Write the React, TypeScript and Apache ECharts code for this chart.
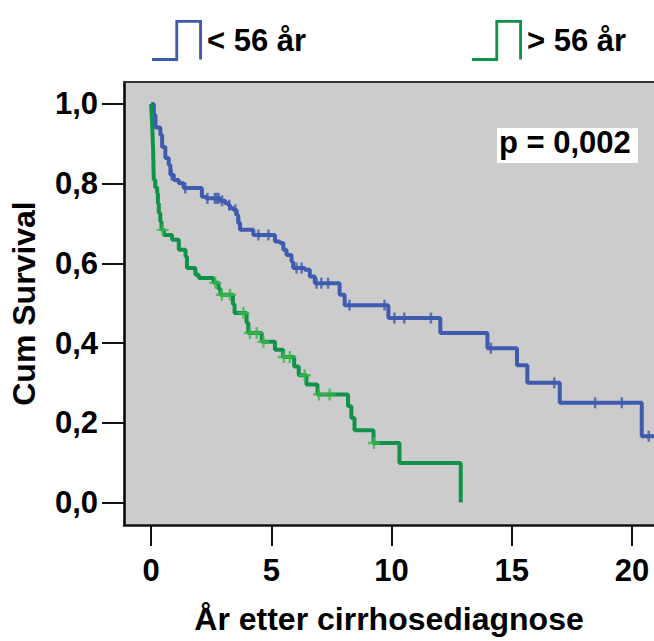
import React, { useEffect, useRef } from "react";
import * as echarts from "echarts";

// Kaplan-Meier step points [years, cumulative survival]
const youngCurve: number[][] = [
  [0, 1.0], [0.11, 0.972], [0.18, 0.941], [0.385, 0.922], [0.456, 0.892], [0.59, 0.864],
  [0.73, 0.847], [0.8, 0.822], [0.94, 0.809], [1.15, 0.801], [1.35, 0.789], [2.11, 0.767],
  [2.28, 0.763], [2.86, 0.757], [3.08, 0.751], [3.22, 0.746], [3.28, 0.738], [3.43, 0.734],
  [3.56, 0.721], [3.62, 0.701], [3.7, 0.684], [4.25, 0.671], [5.15, 0.655], [5.36, 0.651],
  [5.5, 0.634], [5.63, 0.621], [5.84, 0.604], [5.91, 0.588], [6.39, 0.584], [6.6, 0.567],
  [6.81, 0.55], [7.84, 0.521], [8.05, 0.495], [9.87, 0.4625], [12.03, 0.425], [13.99, 0.387],
  [15.22, 0.344], [15.65, 0.3], [17.0, 0.25], [20.41, 0.166], [21.2, 0.166],
];
const youngCensored: number[][] = [
  [0.85, 0.822], [1.42, 0.789], [2.34, 0.763], [2.65, 0.763], [2.73, 0.763], [2.8, 0.763],
  [2.95, 0.757], [3.25, 0.746], [3.5, 0.734], [3.66, 0.701], [4.46, 0.671], [4.88, 0.671],
  [6.05, 0.588], [6.26, 0.588], [6.88, 0.55], [7.08, 0.55], [7.36, 0.55], [8.25, 0.495],
  [9.71, 0.495], [10.12, 0.4625], [10.53, 0.4625], [11.64, 0.4625], [14.13, 0.387],
  [16.77, 0.3], [18.47, 0.25], [19.58, 0.25], [20.7, 0.166],
];
const oldCurve: number[][] = [
  [0, 1.0], [0.02, 0.975], [0.04, 0.95], [0.06, 0.92], [0.08, 0.89], [0.09, 0.86],
  [0.1, 0.83], [0.11, 0.81], [0.17, 0.79], [0.25, 0.776], [0.28, 0.75], [0.32, 0.726],
  [0.38, 0.705], [0.43, 0.684], [0.53, 0.671], [0.87, 0.659], [1.15, 0.634], [1.43, 0.617],
  [1.49, 0.588], [1.84, 0.571], [1.98, 0.563], [2.6, 0.551], [2.8, 0.536], [2.88, 0.521],
  [3.4, 0.497], [3.47, 0.475], [3.97, 0.451], [4.04, 0.425], [4.6, 0.403], [5.15, 0.383],
  [5.49, 0.365], [5.95, 0.341], [6.14, 0.319], [6.46, 0.296], [6.92, 0.271], [8.19, 0.241],
  [8.33, 0.212], [8.46, 0.181], [9.25, 0.149], [10.33, 0.099], [12.88, 0.0],
];
const oldCensored: number[][] = [
  [0.48, 0.684], [2.67, 0.551], [2.94, 0.521], [3.28, 0.521], [3.84, 0.475], [4.11, 0.425],
  [4.39, 0.425], [4.67, 0.403], [5.52, 0.365], [5.77, 0.365], [6.39, 0.319], [6.98, 0.271],
  [7.43, 0.271], [9.27, 0.149],
];
const xTicks = [0, 5, 10, 15, 20];
const yTicks = [0, 0.2, 0.4, 0.6, 0.8, 1.0];
const groupNames = ["< 56 år", "> 56 år"];
const xTitle = "År etter cirrhosediagnose";
const yTitle = "Cum Survival";
const pText = "p = 0,002";

const BLUE = "#3f5bb0";
const GREEN = "#11924a";
const GREEN_LIGHT = "#3cb64b";
const FONT = "'Liberation Sans', Arial, sans-serif";

const stepIcon =
  "path://M0,41.5H27.5V1.5H49.5V40H52.5V-1.5H24.5V38.5H0Z";
const plusIcon = "path://M4,0H6V4H10V6H6V10H4V6H0V4H4Z";

export default function App() {
  const ref = useRef<HTMLDivElement>(null);
  useEffect(() => {
    if (!ref.current) return;
    const chart = echarts.init(ref.current, null, { renderer: "svg" });
    const txt = { color: "#000", fontWeight: "bold" as const, fontFamily: FONT, fontSize: 31 };
    const legendBase = {
      top: 15,
      icon: stepIcon,
      itemWidth: 50,
      itemHeight: 42,
      selectedMode: false,
      itemStyle: { borderWidth: 0 },
      textStyle: { ...txt },
    };
    chart.setOption({
      animation: false,
      backgroundColor: "#fff",
      grid: {
        left: 122,
        top: 82,
        right: 0,
        bottom: 116,
        show: true,
        backgroundColor: "#cccccc",
        borderWidth: 0,
      },
      legend: [
        { ...legendBase, left: 147, data: [groupNames[0]] },
        { ...legendBase, left: 467, data: [groupNames[1]] },
      ],
      xAxis: [
        {
          type: "value",
          min: -1.13,
          max: 20.92,
          name: xTitle,
          nameLocation: "middle",
          nameGap: 78,
          nameTextStyle: { ...txt, fontSize: 32 },
          axisLine: { show: true, onZero: false, lineStyle: { color: "#111", width: 2.5 } },
          axisTick: {
            show: true,
            length: 21,
            customValues: xTicks,
            lineStyle: { color: "#111", width: 2 },
          },
          axisLabel: {
            customValues: xTicks,
            margin: 30,
            ...txt,
          },
          splitLine: { show: false },
        },
        {
          type: "value",
          position: "top",
          min: -1.13,
          max: 20.92,
          axisLine: { show: true, onZero: false, lineStyle: { color: "#333", width: 2 } },
          axisTick: { show: false },
          axisLabel: { show: false },
          splitLine: { show: false },
        },
      ],
      yAxis: {
        type: "value",
        min: -0.0567,
        max: 1.055,
        name: yTitle,
        nameLocation: "middle",
        nameGap: 84,
        nameTextStyle: { ...txt, fontSize: 32 },
        axisLine: { show: true, onZero: false, lineStyle: { color: "#000", width: 2.5 } },
        axisTick: {
          show: true,
          length: 22,
          customValues: yTicks,
          lineStyle: { color: "#111", width: 2 },
        },
        axisLabel: {
          customValues: yTicks,
          margin: 26,
          formatter: (v: number) => v.toFixed(1).replace(".", ","),
          ...txt,
        },
        splitLine: { show: false },
      },
      series: [
        {
          name: groupNames[0],
          type: "line",
          step: "end",
          data: youngCurve,
          showSymbol: false,
          symbol: "none",
          itemStyle: { color: BLUE },
          lineStyle: { color: BLUE, width: 4 },
          clip: true,
          z: 2,
        },
        {
          name: groupNames[1],
          type: "line",
          step: "end",
          data: oldCurve,
          showSymbol: false,
          symbol: "none",
          itemStyle: { color: GREEN },
          lineStyle: { color: GREEN, width: 4 },
          clip: true,
          z: 3,
        },
        {
          name: "young-censored",
          type: "scatter",
          data: youngCensored,
          symbol: "rect",
          symbolSize: [2.5, 11],
          itemStyle: { color: BLUE },
          clip: true,
          z: 4,
        },
        {
          name: "old-censored",
          type: "scatter",
          data: oldCensored,
          symbol: plusIcon,
          symbolSize: 12,
          itemStyle: { color: GREEN_LIGHT },
          clip: true,
          z: 5,
        },
      ],
      graphic: [
        {
          type: "rect",
          left: 497,
          top: 128,
          shape: { width: 141, height: 35 },
          style: { fill: "#ffffff" },
          z: 10,
        },
        {
          type: "text",
          left: 499,
          top: 127,
          style: { text: pText, fill: "#000", font: `bold 31px ${FONT}` },
          z: 11,
        },
      ],
    });
    return () => chart.dispose();
  }, []);
  return (
    <div
      ref={ref}
      style={{ position: "fixed", left: 0, top: 0, width: 654, height: 641 }}
    />
  );
}
